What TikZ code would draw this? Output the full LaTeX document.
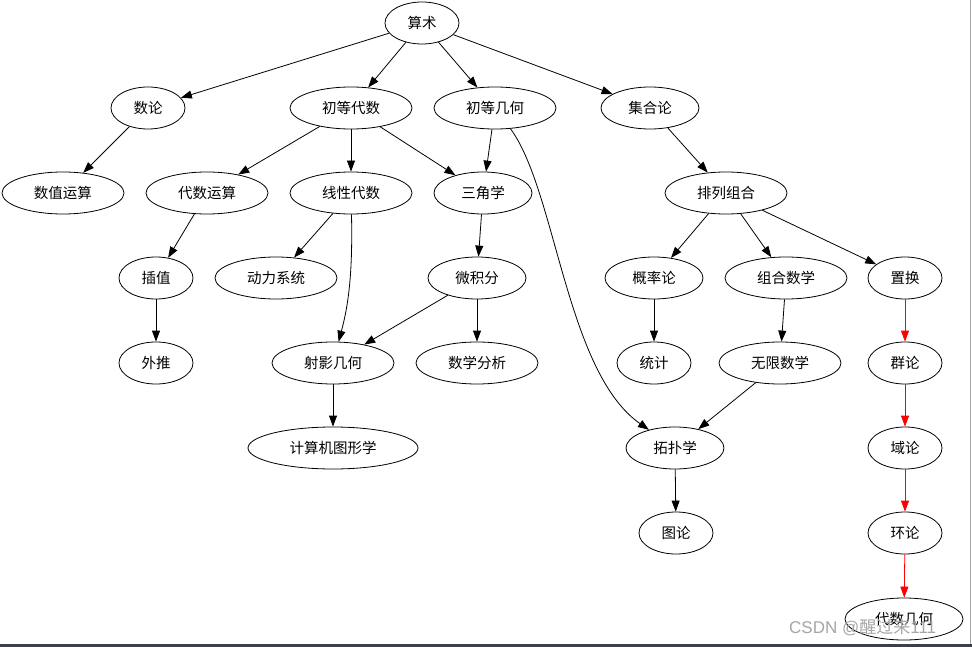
\documentclass[tikz,border=0pt]{standalone}
\usepackage{fontspec}
\setmainfont{Noto Sans CJK SC}
\usetikzlibrary{arrows.meta,shapes.geometric}
\definecolor{framecol}{RGB}{60,64,72}
\begin{document}
\begin{tikzpicture}[x=1pt,y=-1pt,
  nd/.style={draw,ellipse,line width=0.8pt,inner sep=0pt,minimum height=42pt,font=\fontsize{14.5}{16}\selectfont},
  w37/.style={nd,minimum width=74pt},
  w49/.style={nd,minimum width=98pt},
  w61/.style={nd,minimum width=122pt},
  w85/.style={nd,minimum width=170pt},
  ed/.style={line width=0.8pt,-{Triangle[length=11pt,width=8pt]}},
  redge/.style={line width=0.8pt,draw=red,-{Triangle[length=11pt,width=8pt,fill=red]}}]
\fill[white] (0,0) rectangle (972,647);
\useasboundingbox (0,0) rectangle (972,647);
\fill[gray!70] (969.5,0) rectangle (971,644);
\fill[framecol] (0,644) rectangle (972,647);
% row 0
\node[w37] (ss) at (422,23) {算术};
% row 1
\node[w37] (sl) at (148,108) {数论};
\node[w61] (cdds) at (351,108) {初等代数};
\node[w61] (cdjh) at (495,108) {初等几何};
\node[w49] (jhl) at (650,108) {集合论};
% row 2
\node[w61] (szys) at (63,193) {数值运算};
\node[w61] (dsys) at (207,193) {代数运算};
\node[w61] (xxds) at (351,193) {线性代数};
\node[w49] (sjx) at (483,193) {三角学};
\node[w61] (plzh) at (726,193) {排列组合};
% row 3
\node[w37] (cz) at (156,278) {插值};
\node[w61] (dlxt) at (276,278) {动力系统};
\node[w49] (wjf) at (477,278) {微积分};
\node[w49] (gll) at (654,278) {概率论};
\node[w61] (zhsx) at (786,278) {组合数学};
\node[w37] (zh) at (905,278) {置换};
% row 4
\node[w37] (wt) at (156,363) {外推};
\node[w61] (syjh) at (333,363) {射影几何};
\node[w61] (sxfx) at (477,363) {数学分析};
\node[w37] (tj) at (654,363) {统计};
\node[w61] (wxsx) at (780,363) {无限数学};
\node[w37] (ql) at (905,363) {群论};
% row 5
\node[w85] (jsj) at (333,448) {计算机图形学};
\node[w49] (tpx) at (675,448) {拓扑学};
\node[w37] (yl) at (905,448) {域论};
% row 6
\node[w37] (tl) at (676,533) {图论};
\node[w37] (hl) at (905,533) {环论};
% row 7
\node[nd,minimum width=118pt] (dsjh) at (904,619) {代数几何};
% edges
\draw[ed] (ss) -- (sl);
\draw[ed] (ss) -- (cdds);
\draw[ed] (ss) -- (cdjh);
\draw[ed] (ss) -- (jhl);
\draw[ed] (sl) -- (szys);
\draw[ed] (cdds) -- (dsys);
\draw[ed] (cdds) -- (xxds);
\draw[ed] (cdds) -- (sjx);
\draw[ed] (cdjh) -- (sjx);
\draw[ed] (cdjh) .. controls (556,190) and (566,372) .. (tpx);
\draw[ed] (jhl) -- (plzh);
\draw[ed] (dsys) -- (cz);
\draw[ed] (xxds) -- (dlxt);
\draw[ed] (xxds) .. controls (353,280) and (347,310) .. (syjh);
\draw[ed] (sjx) -- (wjf);
\draw[ed] (plzh) -- (gll);
\draw[ed] (plzh) -- (zhsx);
\draw[ed] (plzh) -- (zh);
\draw[ed] (cz) -- (wt);
\draw[ed] (wjf) -- (syjh);
\draw[ed] (wjf) -- (sxfx);
\draw[ed] (gll) -- (tj);
\draw[ed] (zhsx) -- (wxsx);
\draw[ed] (syjh) -- (jsj);
\draw[ed] (wxsx) -- (tpx);
\draw[ed] (tpx) -- (tl);
\draw[redge] (zh) -- (ql);
\draw[redge] (ql) -- (yl);
\draw[redge] (yl) -- (hl);
\draw[redge] (hl) -- (dsjh);
% watermark
\node[text=black!35,font=\fontsize{17}{19}\selectfont,anchor=west,inner sep=0pt] (wm) at (789,628) {\fontspec{Liberation Sans}CSDN @\fontspec{Noto Sans CJK SC}醒过来\fontspec{Liberation Sans}111};
\end{tikzpicture}
\end{document}
